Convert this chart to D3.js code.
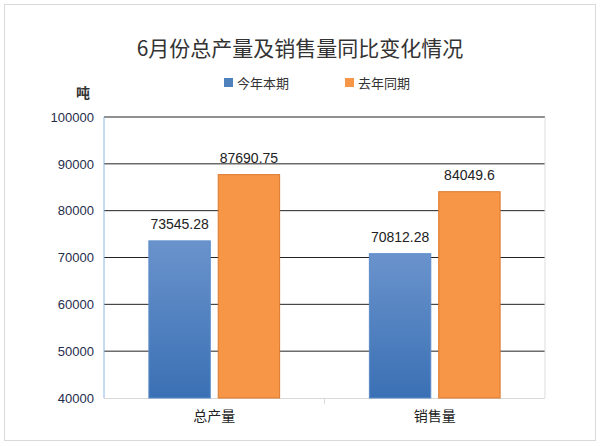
<!DOCTYPE html>
<html><head><meta charset="utf-8">
<script src="https://cdn.jsdelivr.net/npm/d3@7"></script>
<style>body{margin:0;background:#fff}</style></head>
<body><svg id="c" width="601" height="446"></svg>
<script>
const categories = ["总产量","销售量"];
const seriesNames = ["今年本期","去年同期"];
const thisYear = [73545.28, 70812.28];
const lastYear = [87690.75, 84049.6];
const labelsThis = ["73545.28","70812.28"];
const labelsLast = ["87690.75","84049.6"];
const yTicks = [40000,50000,60000,70000,80000,90000,100000];

const svg = d3.select("#c");
const font = "'Noto Sans CJK SC', sans-serif";
svg.append("rect").attr("x",4.5).attr("y",4.5).attr("width",591).attr("height",436)
  .attr("fill","#fff").attr("stroke","#d9d9d9");
const defs = svg.append("defs");
const g1 = defs.append("linearGradient").attr("id","gb").attr("x1",0).attr("y1",0).attr("x2",0).attr("y2",1);
g1.append("stop").attr("offset","0%").attr("stop-color","#6a93cc");
g1.append("stop").attr("offset","100%").attr("stop-color","#3a70b4");

const L=104, R=545, T=117, B=398;
const y = d3.scaleLinear().domain([40000,100000]).range([B,T]);
const x0 = d3.scaleBand().domain(categories).range([L,R]);
const x1 = d3.scaleBand().domain(seriesNames).range([0,x0.bandwidth()]).paddingInner(0.1).paddingOuter(0.64);

svg.append("text").attr("x",300).attr("y",56).attr("text-anchor","middle")
  .attr("font-family",font).attr("font-size",21).attr("fill","#333").text("6月份总产量及销售量同比变化情况");
svg.append("text").attr("x",90).attr("y",98).attr("text-anchor","end")
  .attr("font-family",font).attr("font-size",14).attr("font-weight","bold").attr("fill","#333").text("吨");

// legend
const leg=[{n:seriesNames[0],c:"#4f81bd",x:224},{n:seriesNames[1],c:"#f79646",x:345}];
leg.forEach(d=>{
  svg.append("rect").attr("x",d.x).attr("y",78).attr("width",9).attr("height",9).attr("fill",d.c);
  svg.append("text").attr("x",d.x+13).attr("y",88).attr("font-family",font).attr("font-size",13).attr("fill","#333").text(d.n);
});

// grid
svg.append("g").selectAll("line").data(yTicks.slice(1)).join("line")
  .attr("x1",L).attr("x2",R).attr("y1",d=>y(d)).attr("y2",d=>y(d)).attr("stroke","#222").attr("stroke-width",1);
svg.append("line").attr("x1",R).attr("x2",R).attr("y1",T).attr("y2",B).attr("stroke","#ddd");
svg.append("line").attr("x1",L).attr("x2",L).attr("y1",T).attr("y2",B).attr("stroke","#8eb4e3");
svg.append("line").attr("x1",L).attr("x2",R).attr("y1",B+0.5).attr("y2",B+0.5).attr("stroke","#d9d9d9");
svg.append("line").attr("x1",x0(categories[1])).attr("x2",x0(categories[1])).attr("y1",B).attr("y2",B+6).attr("stroke","#d9d9d9");

const yAxis = d3.axisLeft(y).tickValues(yTicks).tickSize(0).tickPadding(10).tickFormat(d3.format("d"));
const ya = svg.append("g").attr("transform",`translate(${L},0)`).call(yAxis);
ya.select(".domain").remove();
ya.selectAll("text").attr("font-family","'Liberation Sans', Arial").attr("font-size",13).attr("fill","#1f2d4d");

const data = categories.map((c,i)=>({c,vals:[
  {s:seriesNames[0],v:thisYear[i],l:labelsThis[i],f:"url(#gb)",st:"#5b8bc9"},
  {s:seriesNames[1],v:lastYear[i],l:labelsLast[i],f:"#f79646",st:"#d9782f"}]}));
const grp = svg.append("g").selectAll("g").data(data).join("g").attr("transform",d=>`translate(${x0(d.c)},0)`);
grp.selectAll("rect").data(d=>d.vals).join("rect")
  .attr("x",d=>x1(d.s)+0.5).attr("width",x1.bandwidth()-1).attr("y",d=>y(d.v)).attr("height",d=>B-y(d.v))
  .attr("fill",d=>d.f).attr("stroke",d=>d.st);
grp.selectAll("text").data(d=>d.vals).join("text")
  .attr("x",d=>x1(d.s)+x1.bandwidth()/2).attr("y",d=>y(d.v)-12).attr("text-anchor","middle")
  .attr("font-family","'Liberation Sans', Arial").attr("font-size",14).attr("fill","#222").text(d=>d.l);

svg.append("g").selectAll("text").data(categories).join("text")
  .attr("x",d=>x0(d)+x0.bandwidth()/2).attr("y",421).attr("text-anchor","middle")
  .attr("font-family",font).attr("font-size",14).attr("fill","#222").text(d=>d);
</script></body></html>
